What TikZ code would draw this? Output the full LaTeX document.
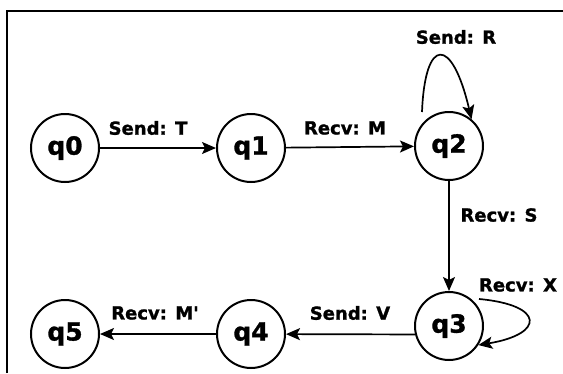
\documentclass[tikz,border=0pt]{standalone}
\usepackage{fontspec}
\setmainfont{DejaVu Sans}
\newfontfamily\heavyfont[FakeBold=1.2]{DejaVu Sans Bold}
\usetikzlibrary{arrows.meta,calc}
\begin{document}
\begin{tikzpicture}[x=1pt,y=-1pt,
  state/.style={circle,draw,line width=2pt,minimum size=68pt,inner sep=0pt,
    font=\fontsize{25}{25}\selectfont\heavyfont},
  edge/.style={line width=1.7pt,-{Stealth[length=14pt,width=12pt,inset=3pt]}},
  lab/.style={font=\fontsize{18}{18}\selectfont\heavyfont,inner sep=0pt},
  frame/.style={line width=1.4pt}]
\useasboundingbox (0,0) rectangle (563,373);
\coordinate (fb) at (7,373);
\coordinate (fc) at (7,11);
\coordinate (fr) at (563,11);
\draw[frame] (fb) -- (fc) -- (fr);

\node[state] (q0) at (65,148) {q0};
\node[state] (q1) at (251,148) {q1};
\node[state] (q2) at (449,146) {q2};
\node[state] (q3) at (449,326) {q3};
\node[state] (q4) at (251,334) {q4};
\node[state] (q5) at (65,334) {q5};

\draw[edge] (q0) -- (q1);
\draw[edge] (q1) -- (q2);
\draw[edge] (q2) -- (q3);
\draw[edge] (q3.194) -- (q4);
\draw[edge] (q4) -- (q5);
\draw[edge] ($(q2.center)+(-27,-34)$) .. controls (425,36) and (452,36) .. (q2.50);
\draw[edge] ($(q3.center)+(30,-27)$) .. controls (545,305) and (545,334) .. (q3.-33);

\node[lab] (lT) at (148,128) {Send: T};
\node[lab] (lM) at (345,128) {Recv: M};
\node[lab] (lR) at (456,37) {Send: R};
\node[lab] (lS) at (499,215) {Recv: S};
\node[lab] (lX) at (518,285) {Recv: X};
\node[lab] (lV) at (350,313) {Send: V};
\node[lab] (lMp) at (155,313) {Recv: M'};
\end{tikzpicture}
\end{document}
